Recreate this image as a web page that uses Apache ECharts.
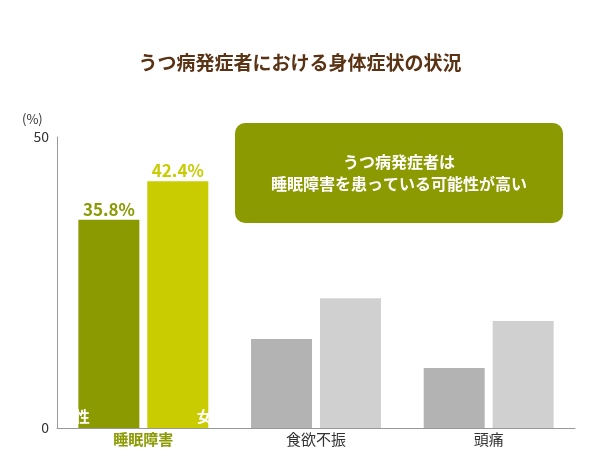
<!DOCTYPE html>
<html><head><meta charset="utf-8">
<script src="https://cdn.jsdelivr.net/npm/echarts@6/dist/echarts.min.js"></script>
<style>html,body{margin:0;padding:0;background:#fff}#c{width:600px;height:450px}</style>
</head><body><div id="c"></div>
<script>
var categories = ['睡眠障害', '食欲不振', '頭痛'];
var maleValues = [35.8, 15.3, 10.3];
var femaleValues = [42.4, 22.3, 18.4];
var maleColors = ['#8a9a00', '#b3b3b3', '#b3b3b3'];
var femaleColors = ['#c8cc00', '#d0d0d0', '#d0d0d0'];
var F = '"Noto Sans CJK JP", sans-serif';
function build(vals, cols, textColor) {
  return vals.map(function (v, i) {
    var d = { value: v, itemStyle: { color: cols[i] } };
    if (i === 0) {
      d.label = { show: true, position: 'top', formatter: v.toFixed(1) + '%', color: textColor, fontSize: 17, fontWeight: 'bold', fontFamily: F, distance: 2 };
    }
    return d;
  });
}
function nameMark(name, off) {
  return { symbol: 'rect', symbolSize: 1, itemStyle: { color: 'transparent' },
    data: [{ coord: [categories[0], 0], symbolOffset: [off, 0],
      label: { show: true, position: 'top', distance: 4, formatter: name, color: '#fff', fontSize: 15, fontWeight: 'bold', fontFamily: F } }] };
}
var chart = echarts.init(document.getElementById('c'));
chart.setOption({
  animation: false,
  title: { text: 'うつ病発症者における身体症状の状況', left: 'center', top: 48, textStyle: { color: '#5a3214', fontSize: 19, fontWeight: 'bold', fontFamily: F } },
  grid: { left: 57, right: 25, top: 137, bottom: 22, containLabel: false },
  xAxis: { type: 'category', data: categories, axisTick: { show: false },
    axisLine: { lineStyle: { color: '#999' } },
    axisLabel: { fontSize: 15, fontFamily: F, margin: 4,
      formatter: function (v, i) { return i === 0 ? '{a|' + v + '}' : '{b|' + v + '}'; },
      rich: { a: { color: '#8a9a00', fontWeight: 'bold', fontSize: 15, fontFamily: F }, b: { color: '#333', fontSize: 15, fontFamily: F } } } },
  yAxis: { type: 'value', min: 0, max: 50, interval: 50, splitLine: { show: false },
    axisLine: { show: true, lineStyle: { color: '#999' } }, axisTick: { show: false },
    axisLabel: { fontSize: 14, color: '#333', fontFamily: F } },
  graphic: [
    { type: 'text', left: 22, top: 113, style: { text: '(%)', fontSize: 13, fill: '#333', fontFamily: F } },
    { type: 'rect', shape: { x: 235, y: 123, width: 328, height: 100, r: 10 }, style: { fill: '#8a9a00' } },
    { type: 'text', x: 399, y: 173, style: { text: 'うつ病発症者は\n睡眠障害を患っている可能性が高い', align: 'center', verticalAlign: 'middle', fill: '#fff', fontSize: 16, fontWeight: 'bold', lineHeight: 22, fontFamily: F } }
  ],
  series: [
    { type: 'bar', data: build(maleValues, maleColors, '#8a9a00'), barWidth: 61, barGap: '13%', markPoint: nameMark('男性', -34) },
    { type: 'bar', data: build(femaleValues, femaleColors, '#c8cc00'), barWidth: 61, barGap: '13%', markPoint: nameMark('女性', 34) }
  ]
});
</script>
</body></html>
